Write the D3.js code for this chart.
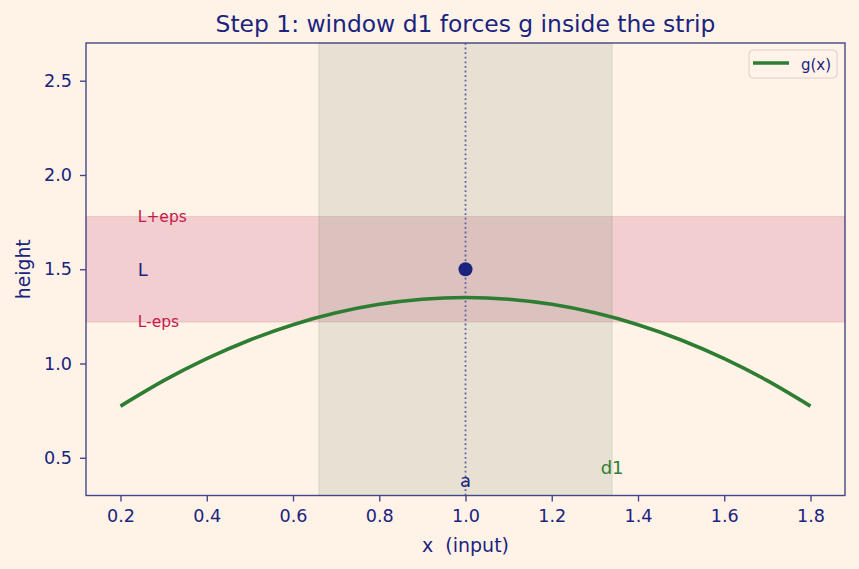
<!DOCTYPE html>
<html>
<head>
<meta charset="utf-8">
<script src="https://cdn.jsdelivr.net/npm/d3@7"></script>
<style>
  body { margin: 0; background: #fff3e8; }
  text { font-family: "DejaVu Sans", sans-serif; }
</style>
</head>
<body>
<div id="chart"></div>
<script>
// g(x)
const xs = [0.2, 0.3, 0.4, 0.5, 0.6, 0.7, 0.8, 0.9, 1.0, 1.1, 1.2, 1.3, 1.4, 1.5, 1.6, 1.7, 1.8];
const gs = [0.774, 0.909, 1.026, 1.125, 1.206, 1.269, 1.314, 1.341, 1.35, 1.341, 1.314, 1.269, 1.206, 1.125, 1.026, 0.909, 0.774];

const a = 1.0, L = 1.5, eps = 0.28;
const win = [0.66, 1.34];
const xTicks = [0.2, 0.4, 0.6, 0.8, 1.0, 1.2, 1.4, 1.6, 1.8];
const yTicks = [0.5, 1.0, 1.5, 2.0, 2.5];

const W = 859, H = 569;
const margin = { top: 43, right: 14, bottom: 73.5, left: 86 };
const width = W - margin.left - margin.right;
const height = H - margin.top - margin.bottom;

const navy = '#1a237e', spine = '#46468a', green = '#2e7d32', crimson = '#c8184a';

const svg = d3.select('#chart').append('svg')
  .attr('width', W).attr('height', H);

svg.append('rect').attr('width', W).attr('height', H).attr('fill', '#fff3e8');

const g = svg.append('g').attr('transform', `translate(${margin.left},${margin.top})`);

const x = d3.scaleLinear().domain([0.12, 1.88]).range([0, width]);
const y = d3.scaleLinear().domain([0.3, 2.7]).range([height, 0]);

// strip L +/- eps
g.append('rect')
  .attr('x', 0).attr('width', width)
  .attr('y', y(L + eps)).attr('height', y(L - eps) - y(L + eps))
  .attr('fill', 'rgba(168,3,72,0.15)')
  .attr('stroke', 'rgba(150,60,60,0.15)').attr('stroke-width', 1);

// window d1
g.append('rect')
  .attr('x', x(win[0])).attr('width', x(win[1]) - x(win[0]))
  .attr('y', 0).attr('height', height)
  .attr('fill', 'rgba(88,130,85,0.15)')
  .attr('stroke', 'rgba(88,130,85,0.18)').attr('stroke-width', 1);

// vertical line at a
g.append('line')
  .attr('x1', x(a)).attr('x2', x(a)).attr('y1', 0).attr('y2', height)
  .attr('stroke', '#5a5aa0').attr('stroke-width', 1.7)
  .attr('stroke-dasharray', '1.8,2.8');

// g(x)
const line = d3.line().x(d => x(d[0])).y(d => y(d[1])).curve(d3.curveNatural);
g.append('path')
  .datum(xs.map((v, i) => [v, gs[i]]))
  .attr('fill', 'none').attr('stroke', green).attr('stroke-width', 3.6)
  .attr('d', line);

// point (a, L)
g.append('circle').attr('cx', x(a)).attr('cy', y(L)).attr('r', 7).attr('fill', navy);

// labels
g.append('text').attr('x', x(0.24)).attr('y', y(1.78)).attr('dy', '0.35em')
  .attr('font-size', 15.5).attr('fill', crimson).text('L+eps');
g.append('text').attr('x', x(0.24)).attr('y', y(L)).attr('dy', '0.35em')
  .attr('font-size', 18).attr('fill', navy).text('L');
g.append('text').attr('x', x(0.24)).attr('y', y(1.22)).attr('dy', '0.35em')
  .attr('font-size', 15.5).attr('fill', crimson).text('L-eps');
g.append('text').attr('x', x(a)).attr('y', y(0.376)).attr('dy', '0.35em')
  .attr('text-anchor', 'middle').attr('font-size', 18).attr('fill', navy).text('a');
g.append('text').attr('x', x(win[1])).attr('y', y(0.45)).attr('dy', '0.35em')
  .attr('text-anchor', 'middle').attr('font-size', 18).attr('fill', green).text('d1');

// axes
const xAxis = g.append('g').attr('transform', `translate(0,${height})`)
  .call(d3.axisBottom(x).tickValues(xTicks).tickFormat(d3.format('.1f')).tickSize(6).tickPadding(8));
const yAxis = g.append('g')
  .call(d3.axisLeft(y).tickValues(yTicks).tickFormat(d3.format('.1f')).tickSize(6).tickPadding(8));
[xAxis, yAxis].forEach(ax => {
  ax.select('.domain').remove();
  ax.selectAll('.tick line').attr('stroke', spine).attr('stroke-width', 1.4);
  ax.selectAll('.tick text').attr('fill', navy).attr('font-size', 17.6)
    .style('font-family', '"DejaVu Sans", sans-serif');
});

// frame
g.append('rect').attr('width', width).attr('height', height)
  .attr('fill', 'none').attr('stroke', spine).attr('stroke-width', 1.4);

// legend
const lg = g.append('g').attr('transform', `translate(${width - 96},7)`);
lg.append('rect').attr('width', 88).attr('height', 28).attr('rx', 4)
  .attr('fill', 'rgba(255,243,232,0.8)').attr('stroke', '#d8d0c8');
lg.append('line').attr('x1', 4).attr('x2', 40).attr('y1', 13).attr('y2', 13)
  .attr('stroke', green).attr('stroke-width', 3.6);
lg.append('text').attr('x', 52).attr('y', 15).attr('dy', '0.35em')
  .attr('font-size', 15).attr('fill', navy).text('g(x)');

// titles
svg.append('text').attr('x', margin.left + width / 2).attr('y', 24).attr('dy', '0.35em')
  .attr('text-anchor', 'middle').attr('font-size', 23.4).attr('fill', navy)
  .text('Step 1: window d1 forces g inside the strip');
svg.append('text').attr('x', margin.left + width / 2).attr('y', 545).attr('dy', '0.35em')
  .attr('text-anchor', 'middle').attr('font-size', 19).attr('fill', navy)
  .style('white-space', 'pre')
  .text('x  (input)');
svg.append('text').attr('transform', `translate(23,${margin.top + height / 2}) rotate(-90)`)
  .attr('dy', '0.35em').attr('text-anchor', 'middle').attr('font-size', 18.8).attr('fill', navy)
  .text('height');
</script>
</body>
</html>
